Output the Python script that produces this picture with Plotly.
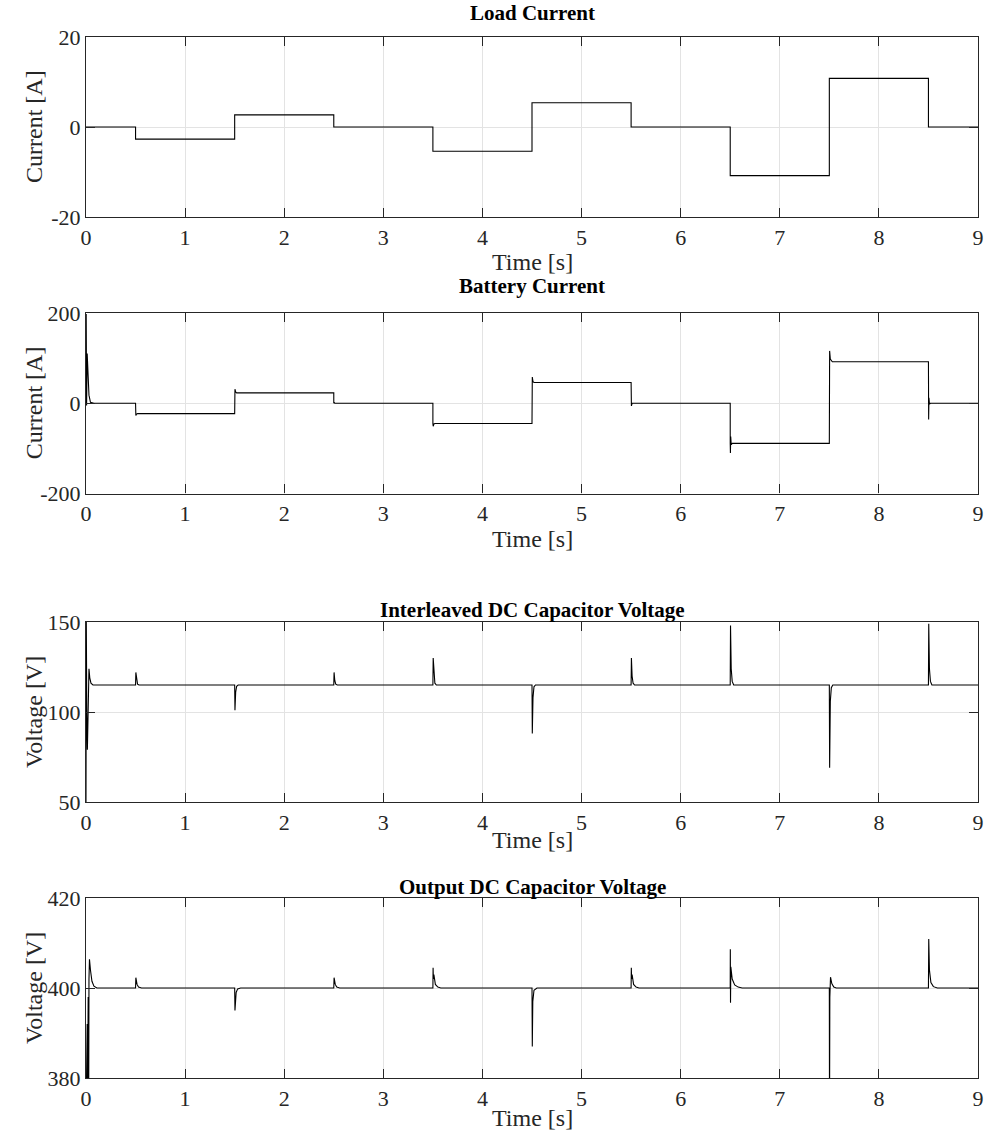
import plotly.graph_objects as go

# ---------------- data ----------------
# Load current: piecewise-constant steps
load_t = [0, 0.5, 0.5, 1.5, 1.5, 2.5, 2.5, 3.5, 3.5, 4.5, 4.5, 5.5, 5.5, 6.5, 6.5, 7.5, 7.5, 8.5, 8.5, 9]
load_i = [0, 0, -2.7, -2.7, 2.7, 2.7, 0, 0, -5.4, -5.4, 5.4, 5.4, 0, 0, -10.8, -10.8, 10.8, 10.8, 0, 0]

# Battery current with switching transients
batt_t = [0, 0.002, 0.006, 0.012, 0.02, 0.03, 0.045, 0.08,
          0.5, 0.5, 0.503, 0.51, 0.52,
          1.5, 1.5, 1.503, 1.51, 1.52,
          2.5, 2.5, 2.503, 2.51,
          3.5, 3.5, 3.503, 3.51, 3.52,
          4.5, 4.5, 4.503, 4.51, 4.52,
          5.5, 5.5, 5.503, 5.51,
          6.5, 6.5, 6.502, 6.505, 6.51, 6.52,
          7.5, 7.5, 7.503, 7.51, 7.52, 7.53,
          8.5, 8.5, 8.502, 8.505, 8.51, 8.52, 9]
batt_i = [0, 198, -5, 110, 55, 18, 2, 0,
          0, -23, -27, -24, -23,
          -23, 23, 31, 25, 23,
          23, 0, 2, 0,
          0, -45, -51, -46, -45,
          -45, 46, 58, 48, 46,
          46, 0, -6, 0,
          0, -89, -110, -74, -92, -89,
          -89, 92, 116, 98, 93, 92,
          92, 0, -36, 12, -2, 0, 0]

# Interleaved DC capacitor voltage (settles at 115 V)
vint_t = [0, 0.003, 0.008, 0.014, 0.022, 0.03, 0.038, 0.05, 0.07,
          0.5, 0.503, 0.51, 0.52, 0.535,
          1.5, 1.503, 1.51, 1.52, 1.535,
          2.5, 2.503, 2.51, 2.52, 2.535,
          3.5, 3.503, 3.51, 3.52, 3.535,
          4.5, 4.503, 4.51, 4.52, 4.535,
          5.5, 5.503, 5.51, 5.52, 5.535,
          6.5, 6.503, 6.51, 6.52, 6.535,
          7.5, 7.503, 7.51, 7.52, 7.535,
          8.5, 8.503, 8.51, 8.52, 8.535, 9]
vint_v = [50, 150, 100, 79, 105, 124, 119, 116, 115,
          115, 122, 117.5, 115.5, 115,
          115, 101, 111, 114.3, 115,
          115, 122, 117.5, 115.5, 115,
          115, 130, 120, 116, 115,
          115, 88, 108, 114, 115,
          115, 130, 120, 116, 115,
          115, 148, 124, 117, 115,
          115, 69, 106, 113.5, 115,
          115, 149, 124, 117, 115, 115]

# Output DC capacitor voltage (settles at 400 V)
vout_t = [0, 0.012, 0.016, 0.022, 0.027, 0.03, 0.035, 0.045, 0.06, 0.08, 0.11,
          0.5, 0.503, 0.515, 0.53, 0.56,
          1.5, 1.503, 1.515, 1.53, 1.56,
          2.5, 2.503, 2.515, 2.53, 2.56,
          3.5, 3.502, 3.505, 3.51, 3.525, 3.55, 3.58,
          4.5, 4.503, 4.508, 4.52, 4.55,
          5.5, 5.502, 5.505, 5.51, 5.525, 5.55, 5.58,
          6.5, 6.501, 6.503, 6.506, 6.52, 6.545, 6.58, 6.62,
          7.5, 7.502, 7.505, 7.512, 7.525, 7.545, 7.57,
          8.5, 8.503, 8.51, 8.525, 8.55, 8.59, 9]
vout_v = [370, 392, 375, 398, 372, 402, 406.4, 404, 401.5, 400.4, 400,
          400, 402.3, 400.8, 400.2, 400,
          400, 395, 399, 399.8, 400,
          400, 402.3, 400.8, 400.2, 400,
          400, 404.5, 402, 403, 400.8, 400.2, 400,
          400, 387, 397, 399.5, 400,
          400, 404.5, 402, 403, 400.8, 400.2, 400,
          400, 408.6, 396.7, 404.7, 402, 400.7, 400.2, 400,
          400, 370, 398, 402.4, 401, 400.2, 400,
          400, 410.9, 404, 401.2, 400.3, 400, 400]

x_ticks = list(range(10))
panels = [
    ("Load Current", "Current [A]", load_t, load_i, [-20, 20], [-20, 0, 20]),
    ("Battery Current", "Current [A]", batt_t, batt_i, [-200, 200], [-200, 0, 200]),
    ("Interleaved DC Capacitor Voltage", "Voltage [V]", vint_t, vint_v, [50, 150], [50, 100, 150]),
    ("Output DC Capacitor Voltage", "Voltage [V]", vout_t, vout_v, [380, 420], [380, 400, 420]),
]

# ---------------- layout geometry (pixels in a 985 x 1140 page) ----------------
W, H = 985, 1140
x_left, x_right = 86, 978
panel_px = [(37, 217), (313, 493.5), (622, 802), (898, 1078)]
title_py = [13, 286, 610, 887]
xlabel_py = [262, 539, 840, 1118]
ylabel_px = 34

FONT = "Liberation Serif"
INK = "#262626"
GRID = "#e3e3e3"
TICK_SIZE = 22
LABEL_SIZE = 24
TITLE_SIZE = 21

fig = go.Figure()
layout = dict(
    width=W, height=H,
    margin=dict(l=0, r=0, t=0, b=0, autoexpand=False),
    paper_bgcolor="white", plot_bgcolor="white",
    showlegend=False,
    font=dict(family=FONT, size=TICK_SIZE, color=INK),
    annotations=[],
)

for k, (title, ylab, xs, ys, yr, yt) in enumerate(panels):
    n = "" if k == 0 else str(k + 1)
    top, bot = panel_px[k]
    fig.add_trace(go.Scatter(
        x=xs, y=ys, mode="lines",
        line=dict(color="black", width=1.1),
        xaxis="x" + n, yaxis="y" + n, hoverinfo="skip",
    ))
    axis_common = dict(
        showline=True, linecolor=INK, linewidth=1.2, mirror="allticks",
        ticks="inside", ticklen=9, tickwidth=1.2, tickcolor=INK,
        showgrid=True, gridcolor=GRID, gridwidth=1,
        zeroline=False, automargin=False,
        tickfont=dict(family=FONT, size=TICK_SIZE, color=INK),
    )
    layout["xaxis" + n] = dict(
        axis_common,
        domain=[x_left / W, x_right / W],
        anchor="y" + n, range=[0, 9],
        tickvals=x_ticks, ticktext=[str(v) for v in x_ticks],
        ticklabelstandoff=0,
    )
    layout["yaxis" + n] = dict(
        axis_common,
        domain=[1 - bot / H, 1 - top / H],
        anchor="x" + n, range=yr,
        tickvals=yt, ticktext=[str(v) for v in yt],
        ticklabelstandoff=0,
    )
    cx = (x_left + x_right) / 2 / W
    layout["annotations"] += [
        dict(text="<b>%s</b>" % title, x=cx, y=1 - title_py[k] / H,
             xref="paper", yref="paper", showarrow=False,
             xanchor="center", yanchor="middle",
             font=dict(family=FONT, size=TITLE_SIZE, color="black")),
        dict(text="Time [s]", x=cx, y=1 - xlabel_py[k] / H,
             xref="paper", yref="paper", showarrow=False,
             xanchor="center", yanchor="middle",
             font=dict(family=FONT, size=LABEL_SIZE, color=INK)),
        dict(text=ylab, x=ylabel_px / W, y=1 - (top + bot) / 2 / H,
             xref="paper", yref="paper", showarrow=False, textangle=-90,
             xanchor="center", yanchor="middle",
             font=dict(family=FONT, size=LABEL_SIZE, color=INK)),
    ]

fig.update_layout(**layout)
fig.write_html("out.html")
